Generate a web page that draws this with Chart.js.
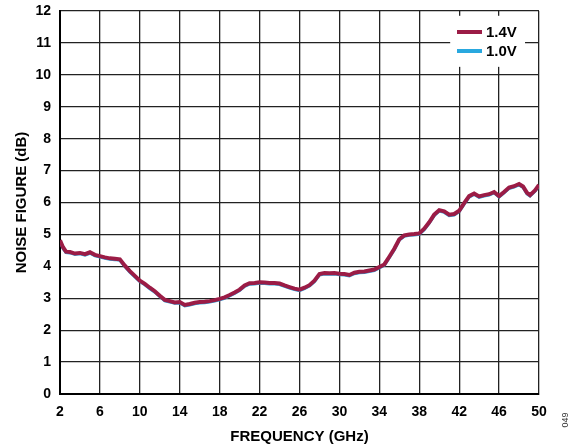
<!DOCTYPE html>
<html>
<head>
<meta charset="utf-8">
<script src="https://cdn.jsdelivr.net/npm/chart.js@4"></script>
<style>
  html, body { margin: 0; padding: 0; background: #fff; }
  #wrap { width: 574px; height: 446px; position: relative; }
</style>
</head>
<body>
<div id="wrap"><canvas id="chart" width="574" height="446"></canvas></div>
<script>
// frequency (GHz) and noise figure (dB)
const freq = [2, 2.3, 2.6, 3, 3.5, 4, 4.5, 5, 5.5, 6, 6.5, 7, 7.5, 8, 8.5, 9, 9.5, 10, 10.5, 11,
  11.5, 12, 12.5, 13, 13.5, 14, 14.5, 15, 15.5, 16, 16.5, 17, 17.5, 18, 18.5, 19, 19.5, 20, 20.5, 21,
  21.5, 22, 22.5, 23, 23.5, 24, 24.5, 25, 25.5, 26, 26.5, 27, 27.5, 28, 28.5, 29, 29.5, 30, 30.5, 31,
  31.5, 32, 32.5, 33, 33.5, 34, 34.5, 35, 35.5, 36, 36.5, 37, 37.5, 38, 38.5, 39, 39.5, 40, 40.5, 41,
  41.5, 42, 42.5, 43, 43.5, 44, 44.5, 45, 45.5, 46, 46.5, 47, 47.5, 48, 48.4, 48.8, 49.1, 49.6, 50]

const nf14 = [4.82, 4.6, 4.46, 4.45, 4.4, 4.42, 4.38, 4.44, 4.36, 4.32, 4.28, 4.25, 4.24, 4.22, 4.02, 3.85, 3.7, 3.55, 3.45, 3.33,
  3.22, 3.08, 2.95, 2.91, 2.87, 2.88, 2.79, 2.82, 2.86, 2.88, 2.89, 2.91, 2.94, 2.98, 3.03, 3.1, 3.18, 3.27, 3.4, 3.47,
  3.48, 3.5, 3.49, 3.48, 3.48, 3.46, 3.4, 3.35, 3.3, 3.27, 3.33, 3.41, 3.55, 3.76, 3.79, 3.78, 3.79, 3.77, 3.76, 3.73,
  3.8, 3.83, 3.84, 3.87, 3.9, 3.98, 4.06, 4.3, 4.55, 4.85, 4.97, 5.0, 5.01, 5.03, 5.18, 5.38, 5.62, 5.76, 5.72, 5.62,
  5.64, 5.74, 5.98, 6.2, 6.28, 6.19, 6.23, 6.26, 6.33, 6.2, 6.33, 6.47, 6.51, 6.58, 6.5, 6.3, 6.23, 6.38, 6.55]

const nf10 = [4.78, 4.56, 4.43, 4.42, 4.37, 4.39, 4.35, 4.41, 4.33, 4.29, 4.25, 4.22, 4.21, 4.19, 3.99, 3.82, 3.67, 3.52, 3.42, 3.3,
  3.19, 3.05, 2.92, 2.88, 2.84, 2.85, 2.76, 2.79, 2.83, 2.85, 2.86, 2.88, 2.91, 2.95, 3.0, 3.07, 3.15, 3.24, 3.37, 3.44,
  3.45, 3.47, 3.46, 3.45, 3.45, 3.43, 3.37, 3.32, 3.27, 3.24, 3.3, 3.38, 3.52, 3.73, 3.76, 3.75, 3.76, 3.74, 3.73, 3.7,
  3.77, 3.8, 3.81, 3.84, 3.87, 3.95, 4.03, 4.27, 4.52, 4.82, 4.94, 4.97, 4.98, 5.0, 5.15, 5.35, 5.59, 5.73, 5.69, 5.59,
  5.61, 5.71, 5.95, 6.17, 6.25, 6.16, 6.2, 6.23, 6.3, 6.17, 6.3, 6.44, 6.48, 6.55, 6.47, 6.27, 6.2, 6.35, 6.52]

const seriesNames = ['1.4V', '1.0V']
const seriesColors = ['#9b1c46', '#29a8df']

const toPoints = (ys) => freq.map((f, i) => ({ x: f, y: ys[i] }))

// legend box drawn over the grid, plus the little figure number on the right
const overlay = {
  id: 'overlay',
  afterDatasetsDraw(chart) {
    const ctx = chart.ctx
    const x = chart.scales.x, y = chart.scales.y
    ctx.save()
    const left = x.getPixelForValue(41.1), right = x.getPixelForValue(48.6)
    const top = y.getPixelForValue(11.85), bottom = y.getPixelForValue(10.25)
    ctx.fillStyle = '#fff'
    ctx.fillRect(left, top, right - left, bottom - top)
    ctx.font = 'bold 15px "Liberation Sans", Arial, sans-serif'
    ctx.textBaseline = 'middle'
    seriesNames.forEach((name, i) => {
      const ly = 32 + i * 19
      ctx.strokeStyle = seriesColors[i]
      ctx.lineWidth = 4
      ctx.beginPath()
      ctx.moveTo(457, ly)
      ctx.lineTo(482, ly)
      ctx.stroke()
      ctx.fillStyle = '#000'
      ctx.fillText(name, 486, ly + 1)
    })
    ctx.restore()
  },
  afterDraw(chart) {
    const ctx = chart.ctx
    ctx.save()
    ctx.translate(566, 420)
    ctx.rotate(-Math.PI / 2)
    ctx.font = '9px "Liberation Sans", Arial, sans-serif'
    ctx.fillStyle = '#333'
    ctx.textAlign = 'center'
    ctx.textBaseline = 'middle'
    ctx.fillText('049', 0, 0)
    ctx.restore()
  }
}

const tickFont = { family: '"Liberation Sans", Arial, sans-serif', size: 14, weight: 'bold' }
const titleFont = { family: '"Liberation Sans", Arial, sans-serif', size: 15, weight: 'bold' }

new Chart(document.getElementById('chart'), {
  type: 'line',
  data: {
    datasets: [{
      label: seriesNames[0],
      data: toPoints(nf14),
      borderColor: seriesColors[0],
      borderWidth: 4,
      pointRadius: 0,
      tension: 0,
      order: 1
    }, {
      label: seriesNames[1],
      data: toPoints(nf10),
      borderColor: seriesColors[1],
      borderWidth: 3,
      pointRadius: 0,
      tension: 0,
      order: 2
    }]
  },
  options: {
    responsive: false,
    animation: false,
    layout: { padding: { top: 11, right: 35, left: 0, bottom: 0 } },
    plugins: {
      legend: { display: false },
      tooltip: { enabled: false }
    },
    scales: {
      x: {
        type: 'linear',
        min: 2,
        max: 50,
        ticks: { stepSize: 4, color: '#000', font: tickFont, padding: 10 },
        grid: { color: '#222', lineWidth: 1.3, drawTicks: false },
        border: { color: '#000', width: 2 },
        title: {
          display: true,
          text: 'FREQUENCY (GHz)',
          color: '#000',
          font: titleFont,
          padding: { top: 4, bottom: 0 }
        },
        afterFit(scale) { scale.height = 52 }
      },
      y: {
        min: 0,
        max: 12,
        ticks: { stepSize: 1, color: '#000', font: tickFont, padding: 9 },
        grid: { color: '#222', lineWidth: 1.3, drawTicks: false },
        border: { color: '#000', width: 2 },
        title: {
          display: true,
          text: 'NOISE FIGURE (dB)',
          color: '#000',
          font: titleFont,
          padding: { top: 13, bottom: 0 }
        },
        afterFit(scale) {
          scale.width = 60
          scale.paddingTop = 0
        }
      }
    }
  },
  plugins: [overlay]
})
</script>
</body>
</html>
